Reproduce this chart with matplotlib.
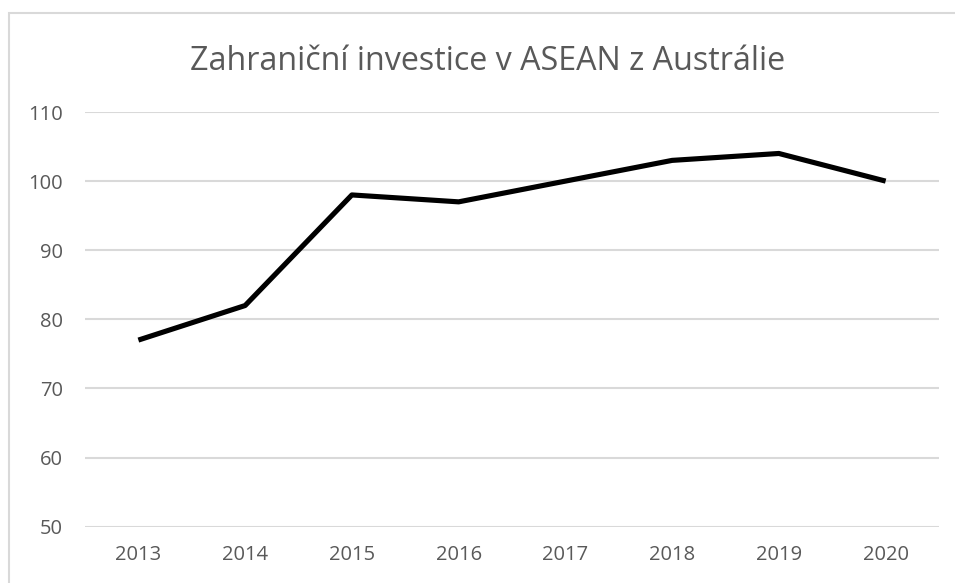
import matplotlib.pyplot as plt
from matplotlib.patches import Rectangle

years = ['2013', '2014', '2015', '2016', '2017', '2018', '2019', '2020']
values = [77, 82, 98, 97, 100, 103, 104, 100]
title = 'Zahraniční investice v ASEAN z Austrálie'

plt.rcParams['font.family'] = ['Open Sans', 'DejaVu Sans']
grey = '#595959'

fig = plt.figure(figsize=(9.55, 5.83), dpi=100)
ax = fig.add_axes([85 / 955, 1 - 526.7 / 583, (939 - 85) / 955, (526.7 - 112) / 583])

x = range(len(years))
ax.plot(x, values, color='black', lw=3.7, solid_joinstyle='round', solid_capstyle='butt', zorder=3)

ax.set_xlim(-0.5, len(years) - 0.5)
ax.set_ylim(50, 110)
ax.set_yticks(range(50, 111, 10))
ax.set_xticks(list(x))
ax.set_xticklabels(years)
ax.grid(axis='y', color='#d9d9d9', lw=1.5)
ax.set_axisbelow(True)
for s in ax.spines.values():
    s.set_visible(False)
ax.tick_params(length=0, colors=grey, labelsize=14.5)
ax.tick_params(axis='y', pad=16)
ax.tick_params(axis='x', pad=13)

fig.text(488 / 955, 1 - 61 / 583, title, ha='center', va='center', fontsize=23.2, color=grey)

# chart border (cut at the right and bottom)
fig.patches.append(Rectangle((9 / 955, -0.05), 1.2, 1 - 13 / 583 + 0.05,
                             transform=fig.transFigure, fill=False,
                             edgecolor='#d9d9d9', lw=1.5))

fig.savefig('out.png', dpi=100)
